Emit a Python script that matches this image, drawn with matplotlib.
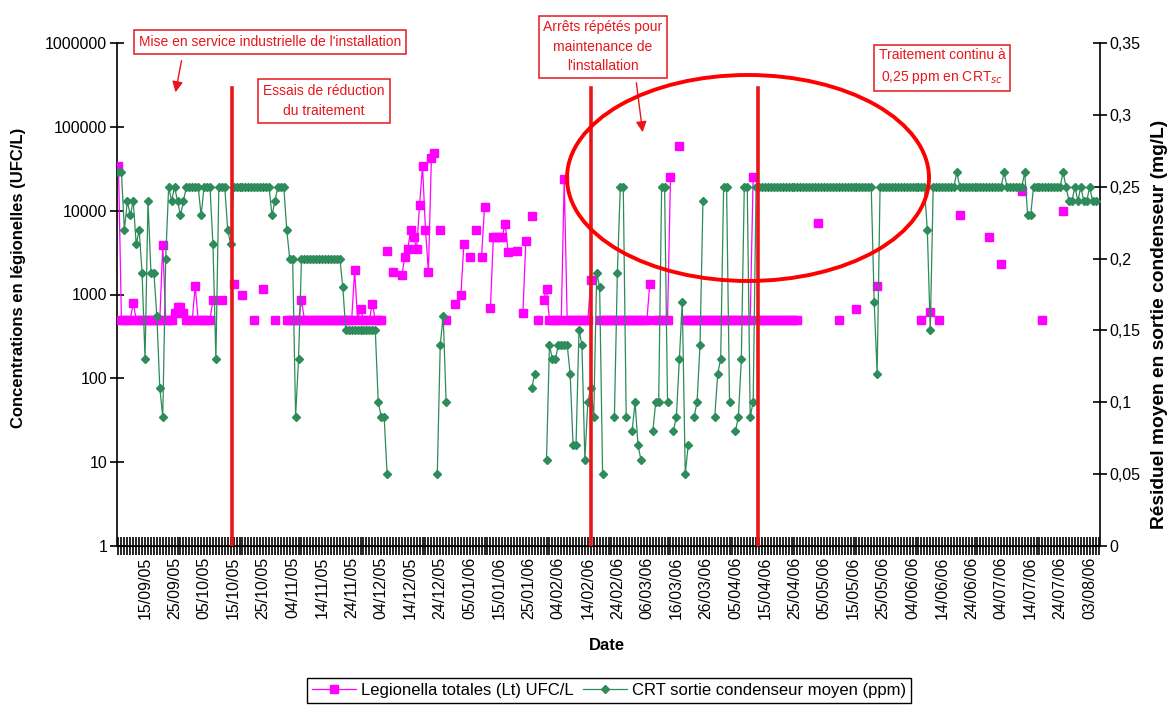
import numpy as np
import matplotlib
matplotlib.use("Agg")
import matplotlib.pyplot as plt
from matplotlib.patches import Ellipse
from matplotlib.lines import Line2D
from matplotlib.ticker import FuncFormatter, NullLocator

plt.rcParams["font.family"] = ["Liberation Sans", "DejaVu Sans"]

# -----------------------------
# data (one entry per category of the Excel date axis)
# -----------------------------
date_labels = [
    "15/09/05", "25/09/05", "05/10/05", "15/10/05", "25/10/05", "04/11/05",
    "14/11/05", "24/11/05", "04/12/05", "14/12/05", "24/12/05", "05/01/06",
    "15/01/06", "25/01/06", "04/02/06", "14/02/06", "24/02/06", "06/03/06",
    "16/03/06", "26/03/06", "05/04/06", "15/04/06", "25/04/06", "05/05/06",
    "15/05/06", "25/05/06", "04/06/06", "14/06/06", "24/06/06", "04/07/06",
    "14/07/06", "24/07/06", "03/08/06",
]
first_label = 9      # category carrying the first date label
label_every = 10     # a label every 10 categories

# red vertical markers (category position)
event_pos = [38.4, 160.0, 216.6]

# Legionella totales (UFC/L)
legio_ufc = [
    34000, 500, 500, 500, 500, 800, 500, 500, 500, 500,
    500, 500, 500, 500, 500, 3900, 500, 500, 500, 600,
    700, 700, 600, 500, 500, 500, 1260, 500, 500, 500,
    500, 500, 870, None, None, 870, None, None, None, 1340,
    None, None, 1000, None, None, None, 500, None, None, 1170,
    None, None, None, 500, None, None, None, 500, 500, 500,
    500, 500, 850, 500, 500, 500, 500, 500, 500, 500,
    500, 500, 500, 500, 500, 500, 500, 500, 500, 500,
    1950, 500, 680, 500, 500, 500, 780, 500, 500, 500,
    None, 3300, None, 1870, None, None, 1700, 2830, 3500, 5900,
    4800, 3500, 11700, 34000, 5900, 1870, 43000, 49000, None, 5900,
    None, 500, None, None, 780, None, 980, 4000, None, 2830,
    None, 5900, None, 2830, 11000, None, 690, 4900, 4900, 4900,
    4900, 7000, 3200, None, None, 3300, None, 600, 4400, None,
    8700, None, 500, None, 870, 1170, 500, 500, 500, 500,
    500, 24000, 500, 500, 500, 500, 500, 500, 500, 500,
    1470, None, None, 500, 500, 500, 500, 500, 500, 500,
    500, 500, 500, 500, 500, 500, 500, 500, 500, 500,
    1340, None, 500, 500, 500, 500, 500, 25000, None, None,
    59000, None, 500, 500, 500, 500, 500, 500, 500, 500,
    500, 500, 500, 500, 500, 500, 500, 500, 500, 500,
    500, 500, 500, 500, 500, 25000, None, 500, 500, 500,
    500, 500, 500, 500, 500, 500, 500, 500, 500, 500,
    500, None, None, None, None, None, None, 7200, None, None,
    None, None, None, None, 500, None, None, None, None, None,
    680, None, None, None, None, None, None, 1270, None, None,
    None, None, None, None, None, None, None, None, None, None,
    None, None, 500, None, None, 615, None, None, 500, None,
    None, None, None, None, None, 8950, None, None, None, None,
    None, None, None, None, None, 4900, None, None, None, 2300,
    None, None, None, None, None, None, 17300, None, None, None,
    None, None, None, 500, None, None, None, None, None, None,
    9800, None, None, None, None, None, None, None, None, None,
    None, None, None,
]

# CRT sortie condenseur moyen (ppm)
crt_ppm = [
    0.26, 0.26, 0.22, 0.24, 0.23, 0.24, 0.21, 0.22, 0.19, 0.13,
    0.24, 0.19, 0.19, 0.16, 0.11, 0.09, 0.20, 0.25, 0.24, 0.25,
    0.24, 0.23, 0.24, 0.25, 0.25, 0.25, 0.25, 0.25, 0.23, 0.25,
    0.25, 0.25, 0.21, 0.13, 0.25, 0.25, 0.25, 0.22, 0.21, 0.25,
    0.25, 0.25, 0.25, 0.25, 0.25, 0.25, 0.25, 0.25, 0.25, 0.25,
    0.25, 0.25, 0.23, 0.24, 0.25, 0.25, 0.25, 0.22, 0.20, 0.20,
    0.09, 0.13, 0.20, 0.20, 0.20, 0.20, 0.20, 0.20, 0.20, 0.20,
    0.20, 0.20, 0.20, 0.20, 0.20, 0.20, 0.18, 0.15, 0.15, 0.15,
    0.15, 0.15, 0.15, 0.15, 0.15, 0.15, 0.15, 0.15, 0.10, 0.09,
    0.09, 0.05, None, None, None, None, None, None, None, None,
    None, None, None, None, None, None, None, None, 0.05, 0.14,
    0.16, 0.10, None, None, None, None, None, None, None, None,
    None, None, None, None, None, None, None, None, None, None,
    None, None, None, None, None, None, None, None, None, None,
    0.11, 0.12, None, None, None, 0.06, 0.14, 0.13, 0.13, 0.14,
    0.14, 0.14, 0.14, 0.12, 0.07, 0.07, 0.15, 0.14, 0.06, 0.10,
    0.11, 0.09, 0.19, 0.18, 0.05, None, None, None, 0.09, 0.19,
    0.25, 0.25, 0.09, None, 0.08, 0.10, 0.07, 0.06, None, None,
    None, 0.08, 0.10, 0.10, 0.25, 0.25, 0.10, None, 0.08, 0.09,
    0.13, 0.17, 0.05, 0.07, None, 0.09, 0.10, 0.14, 0.24, None,
    None, None, 0.09, 0.12, 0.13, 0.25, 0.25, 0.10, None, 0.08,
    0.09, 0.13, 0.25, 0.25, 0.09, 0.10, 0.25, 0.25, 0.25, 0.25,
    0.25, 0.25, 0.25, 0.25, 0.25, 0.25, 0.25, 0.25, 0.25, 0.25,
    0.25, 0.25, 0.25, 0.25, 0.25, 0.25, 0.25, 0.25, 0.25, 0.25,
    0.25, 0.25, 0.25, 0.25, 0.25, 0.25, 0.25, 0.25, 0.25, 0.25,
    0.25, 0.25, 0.25, 0.25, 0.25, 0.25, 0.17, 0.12, 0.25, 0.25,
    0.25, 0.25, 0.25, 0.25, 0.25, 0.25, 0.25, 0.25, 0.25, 0.25,
    0.25, 0.25, 0.25, 0.25, 0.22, 0.15, 0.25, 0.25, 0.25, 0.25,
    0.25, 0.25, 0.25, 0.25, 0.26, 0.25, 0.25, 0.25, 0.25, 0.25,
    0.25, 0.25, 0.25, 0.25, 0.25, 0.25, 0.25, 0.25, 0.25, 0.25,
    0.26, 0.25, 0.25, 0.25, 0.25, 0.25, 0.25, 0.26, 0.23, 0.23,
    0.25, 0.25, 0.25, 0.25, 0.25, 0.25, 0.25, 0.25, 0.25, 0.25,
    0.26, 0.25, 0.24, 0.24, 0.25, 0.24, 0.25, 0.24, 0.24, 0.25,
    0.24, 0.24, None,
]

# -----------------------------
# figure
# -----------------------------
W, H = 1173, 705
RED = "#E8161B"
MAGENTA = "#FF00FF"
GREEN = "#2E8B5A"

n = len(crt_ppm)
x = np.arange(n)
legio = np.array(legio_ufc, dtype=float)
crt = np.array(crt_ppm, dtype=float)

fig = plt.figure(figsize=(W / 100, H / 100), dpi=100)
ax = fig.add_axes([117 / W, 1 - 546 / H, 983 / W, 503 / H])

ax.plot(x, legio, color=MAGENTA, lw=0.9, marker="s", ms=5.8,
        mfc=MAGENTA, mec=MAGENTA, zorder=3)
ax.set_yscale("log")
ax.set_ylim(1, 1e6)
ax.set_xlim(-0.5, n - 0.5)

ax2 = ax.twinx()
ax2.plot(x, crt, color=GREEN, lw=0.9, marker="D", ms=4.2,
         mfc=GREEN, mec=GREEN, zorder=3)
ax2.set_ylim(0, 0.35)

for a in (ax, ax2):
    a.spines["top"].set_visible(False)
ax.spines["right"].set_visible(False)
ax2.spines["left"].set_visible(False)
for s in ("left", "bottom"):
    ax.spines[s].set_linewidth(1.2)
ax2.spines["right"].set_linewidth(1.2)

# left axis
ax.set_yticks([1, 10, 100, 1000, 10000, 100000, 1000000])
ax.yaxis.set_minor_locator(NullLocator())
ax.yaxis.set_major_formatter(FuncFormatter(lambda v, p: f"{int(round(v))}"))
ax.tick_params(axis="y", direction="inout", length=10, width=1.2,
               labelsize=11.5, pad=2)

# right axis
ax2.set_yticks(np.arange(0, 0.351, 0.05))
ax2.yaxis.set_major_formatter(FuncFormatter(
    lambda v, p: (f"{v:.2f}".rstrip("0").rstrip(".")).replace(".", ",")))
ax2.tick_params(axis="y", direction="inout", length=10, width=1.2,
                labelsize=11.5, pad=2)

# date axis
tick_pos = [first_label + label_every * k for k in range(len(date_labels))]
ax.set_xticks(tick_pos)
ax.set_xticklabels(date_labels, rotation=90)
ax.set_xticks(x, minor=True)
ax.tick_params(axis="x", which="both", direction="inout", length=13,
               width=1.2, labelsize=11.5, pad=1)

# red event lines
for p in event_pos:
    ax2.axvline(p, ymin=0, ymax=(546 - 88) / 503, color=RED, lw=2.6, zorder=6)

# axis titles
fig.text(607 / W, 1 - 645 / H, "Date", ha="center", va="center",
         fontsize=12, fontweight="bold")
fig.text(19 / W, 1 - 278 / H, "Concentrations en légionelles (UFC/L)",
         rotation=90, ha="center", va="center", fontsize=12, fontweight="bold")
fig.text(1159 / W, 1 - 324 / H, "Résiduel moyen en sortie condenseur (mg/L)",
         rotation=90, ha="center", va="center", fontsize=13.8, fontweight="bold")

# annotation boxes
box = dict(boxstyle="square,pad=0.35", fc="white", ec=RED, lw=1.1)
fig.text(270 / W, 1 - 42 / H, "Mise en service industrielle de l'installation",
         ha="center", va="center", fontsize=10, color=RED, bbox=box)
fig.text(324 / W, 1 - 101 / H, "Essais de réduction\ndu traitement",
         ha="center", va="center", fontsize=10, color=RED, bbox=box,
         linespacing=1.5)
fig.text(603 / W, 1 - 47 / H, "Arrêts répétés pour\nmaintenance de\nl'installation",
         ha="center", va="center", fontsize=10, color=RED, bbox=box,
         linespacing=1.5)
fig.text(942 / W, 1 - 67 / H, "Traitement continu à\n0,25 ppm en CRT$_{sc}$",
         ha="center", va="center", fontsize=10, color=RED, bbox=box,
         linespacing=1.6)

arrow = dict(arrowstyle="-|>", color=RED, lw=1.0, mutation_scale=16)
ax.annotate("", xy=(175, H - 95), xytext=(182, H - 58),
            xycoords="figure pixels", textcoords="figure pixels",
            arrowprops=arrow, annotation_clip=False)
ax.annotate("", xy=(643, H - 135), xytext=(636, H - 80),
            xycoords="figure pixels", textcoords="figure pixels",
            arrowprops=arrow, annotation_clip=False)

# red ellipse
fig.add_artist(Ellipse((748 / W, 1 - 178 / H), 362 / W, 206 / H,
                       transform=fig.transFigure, fill=False,
                       ec="#FF0000", lw=2.8, zorder=10))

# legend
handles = [
    Line2D([], [], color=MAGENTA, lw=0.9, marker="s", ms=5.8, mfc=MAGENTA, mec=MAGENTA),
    Line2D([], [], color=GREEN, lw=0.9, marker="D", ms=4.2, mfc=GREEN, mec=GREEN),
]
leg = fig.legend(handles, ["Legionella totales (Lt) UFC/L",
                           "CRT sortie condenseur moyen (ppm)"],
                 loc="center", bbox_to_anchor=(609 / W, 1 - 690 / H), ncol=2,
                 frameon=True, fancybox=False, framealpha=1, fontsize=12,
                 handlelength=2.6, handletextpad=0.3, columnspacing=0.6,
                 borderpad=0.3, borderaxespad=0)
leg.get_frame().set_edgecolor("black")
leg.get_frame().set_linewidth(1.0)

fig.savefig("out.png", dpi=100)
